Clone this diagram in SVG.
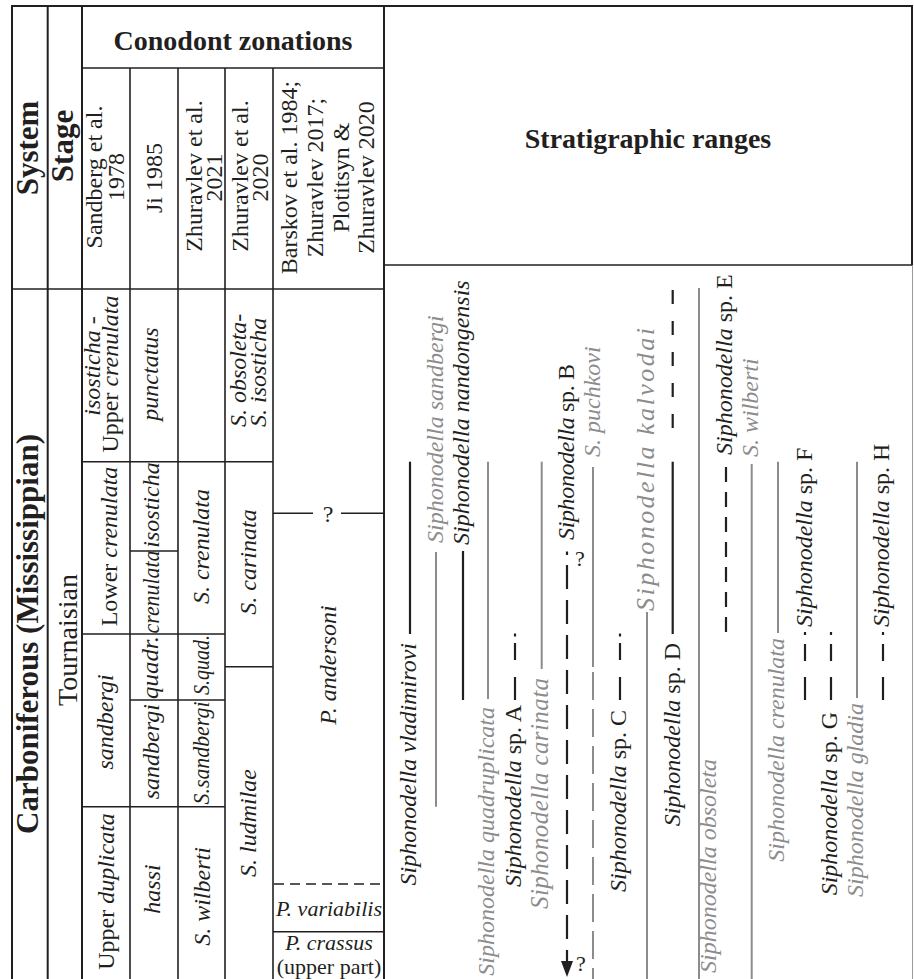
<svg xmlns="http://www.w3.org/2000/svg" width="914" height="979" viewBox="0 0 914 979">
<style>
.ln{stroke:#231f20;stroke-width:1.6;fill:none}
.ob{stroke:#231f20;stroke-width:2;fill:none}
.dl{stroke:#231f20;stroke-width:1.4;fill:none;stroke-dasharray:10 6}
.rb{stroke:#231f20;stroke-width:2.2;fill:none}
.rg{stroke:#8c8c8c;stroke-width:2;fill:none}
text{font-family:"Liberation Serif","Times New Roman",serif;fill:#231f20}
.b28{font-size:28px;font-weight:bold}
.b31{font-size:31px;font-weight:bold}
.r28{font-size:28px}
.r24{font-size:24px}
.i24{font-size:24px;font-style:italic}
.i25{font-size:25px;font-style:italic}
.r22{font-size:22px}
.i22{font-size:22px;font-style:italic}
.it{font-style:italic}
.up{font-style:normal}
.gt{fill:#8c8c8c}
</style>
<rect width="914" height="979" fill="#ffffff"/>

<g id="grid">
  <line class="ob" x1="12" y1="6" x2="913" y2="6"/>
  <line class="ob" x1="12" y1="5" x2="12" y2="979"/>
  <line class="ob" x1="47.7" y1="6" x2="47.7" y2="979"/>
  <line class="ob" x1="82" y1="6" x2="82" y2="979"/>
  <line class="ob" x1="384" y1="6" x2="384" y2="979"/>
  <line class="ob" x1="912" y1="6" x2="912" y2="265"/>
  <line stroke="#9a9a9a" stroke-width="1" x1="912.5" y1="265" x2="912.5" y2="979"/>
  <line class="ln" x1="82" y1="68" x2="384" y2="68"/>
  <line class="ln" x1="12" y1="289" x2="384" y2="289"/>
  <line class="ln" x1="384" y1="265" x2="912" y2="265"/>
  <line class="ln" x1="130" y1="68" x2="130" y2="979"/>
  <line class="ln" x1="178" y1="68" x2="178" y2="979"/>
  <line class="ln" x1="225" y1="68" x2="225" y2="979"/>
  <line class="ln" x1="273" y1="68" x2="273" y2="979"/>
  <line class="ln" x1="82" y1="461.7" x2="273" y2="461.7"/>
  <line class="ln" x1="130" y1="551" x2="178" y2="551"/>
  <line class="ln" x1="82" y1="634" x2="225" y2="634"/>
  <line class="ln" x1="130" y1="700" x2="225" y2="700"/>
  <line class="ln" x1="82" y1="806.7" x2="225" y2="806.7"/>
  <line class="ln" x1="225" y1="666.7" x2="273" y2="666.7"/>
  <line class="ln" x1="273" y1="513.3" x2="313" y2="513.3"/>
  <line class="ln" x1="341" y1="513.3" x2="384" y2="513.3"/>
  <line class="dl" x1="274" y1="884" x2="384" y2="884"/>
  <line class="ln" x1="273" y1="931.7" x2="384" y2="931.7"/>
</g>

<g id="headers">
  <text class="b31" transform="translate(37.5,148) rotate(-90)" text-anchor="middle">System</text>
  <text class="b31" transform="translate(73,146) rotate(-90)" text-anchor="middle">Stage</text>
  <text class="b28" x="233" y="50" text-anchor="middle">Conodont zonations</text>
  <text class="b28" x="648" y="148" text-anchor="middle">Stratigraphic ranges</text>
  <text class="r24" transform="translate(102,177) rotate(-90)" text-anchor="middle">Sandberg et al.</text>
  <text class="r24" transform="translate(124,177) rotate(-90)" text-anchor="middle">1978</text>
  <text class="r24" transform="translate(162,178) rotate(-90)" text-anchor="middle">Ji 1985</text>
  <text class="r24" transform="translate(202,176) rotate(-90)" text-anchor="middle">Zhuravlev et al.</text>
  <text class="r24" transform="translate(222,177.5) rotate(-90)" text-anchor="middle">2021</text>
  <text class="r24" transform="translate(248,176) rotate(-90)" text-anchor="middle">Zhuravlev et al.</text>
  <text class="r24" transform="translate(268,177.5) rotate(-90)" text-anchor="middle">2020</text>
  <text class="r24" transform="translate(297,177.5) rotate(-90)" text-anchor="middle">Barskov et al. 1984;</text>
  <text class="r24" transform="translate(323,177.5) rotate(-90)" text-anchor="middle">Zhuravlev 2017;</text>
  <text class="r24" transform="translate(349,177.5) rotate(-90)" text-anchor="middle">Plotitsyn &amp;</text>
  <text class="r24" transform="translate(374,177.5) rotate(-90)" text-anchor="middle">Zhuravlev 2020</text>
</g>

<g id="units">
  <text class="b31" transform="translate(37.5,634) rotate(-90)" text-anchor="middle">Carboniferous (Mississippian)</text>
  <text class="r28" transform="translate(76.5,640) rotate(-90)" text-anchor="middle">Tournaisian</text>
</g>

<g id="zone-sandberg">
  <text class="i24" transform="translate(100,366) rotate(-90)" text-anchor="middle">isosticha<tspan class="up"> -</tspan></text>
  <text class="r24" transform="translate(118,374) rotate(-90)" text-anchor="middle">Upper <tspan class="it">crenulata</tspan></text>
  <text class="r24" transform="translate(117,546.5) rotate(-90)" text-anchor="middle">Lower <tspan class="it">crenulata</tspan></text>
  <text class="i24" transform="translate(113,722) rotate(-90)" text-anchor="middle">sandbergi</text>
  <text class="r24" transform="translate(114,891.5) rotate(-90)" text-anchor="middle">Upper <tspan class="it">duplicata</tspan></text>
</g>

<g id="zone-ji">
  <text class="i24" transform="translate(158,374) rotate(-90)" text-anchor="middle">punctatus</text>
  <text class="i24" transform="translate(159,505) rotate(-90)" text-anchor="middle">isosticha</text>
  <text class="i24" transform="translate(159,592) rotate(-90)" text-anchor="middle" textLength="83" lengthAdjust="spacingAndGlyphs">crenulata</text>
  <text class="i24" transform="translate(158,667.5) rotate(-90)" text-anchor="middle" textLength="63" lengthAdjust="spacingAndGlyphs">quadr.</text>
  <text class="i24" transform="translate(159,751.7) rotate(-90)" text-anchor="middle">sandbergi</text>
  <text class="i24" transform="translate(160,889) rotate(-90)" text-anchor="middle">hassi</text>
</g>

<g id="zone-zh2021">
  <text class="i24" transform="translate(209,546.5) rotate(-90)" text-anchor="middle">S. crenulata</text>
  <text class="i24" transform="translate(209,665) rotate(-90)" text-anchor="middle" textLength="60" lengthAdjust="spacingAndGlyphs">S.quad.</text>
  <text class="i24" transform="translate(209,753) rotate(-90)" text-anchor="middle" textLength="103" lengthAdjust="spacingAndGlyphs">S.sandbergi</text>
  <text class="i24" transform="translate(210,896.5) rotate(-90)" text-anchor="middle">S. wilberti</text>
</g>

<g id="zone-zh2020">
  <text class="i24" transform="translate(246,427) rotate(-90)">S. obsoleta-</text>
  <text class="i24" transform="translate(266,427) rotate(-90)">S. isosticha</text>
  <text class="i24" transform="translate(256,562) rotate(-90)" text-anchor="middle">S. carinata</text>
  <text class="i24" transform="translate(256,823) rotate(-90)" text-anchor="middle">S. ludmilae</text>
</g>

<g id="zone-barskov">
  <text class="r24" x="328" y="522" text-anchor="middle">?</text>
  <text class="i24" transform="translate(336,665) rotate(-90)" text-anchor="middle">P. andersoni</text>
  <text class="i22" x="329" y="916" text-anchor="middle">P. variabilis</text>
  <text class="i22" x="329" y="950" text-anchor="middle">P. crassus</text>
  <text class="r22" x="329" y="974" text-anchor="middle">(upper part)</text>
</g>

<g id="connectors">
  <g id="vladimirovi">
    <line class="rb" x1="410" y1="461.7" x2="410" y2="634"/>
    <text class="i24" transform="translate(416,643) rotate(-90)" text-anchor="end">Siphonodella vladimirovi</text>
  </g>
  <g id="sandbergi">
    <line class="rg" x1="436" y1="552" x2="436" y2="806.7"/>
    <text class="i24 gt" transform="translate(442.5,543) rotate(-90)">Siphonodella sandbergi</text>
  </g>
  <g id="nandongensis">
    <line class="rb" x1="463" y1="551" x2="463" y2="700"/>
    <text class="i24" transform="translate(469,545) rotate(-90)">Siphonodella nandongensis</text>
  </g>
  <g id="quadruplicata">
    <line class="rg" x1="488" y1="461.7" x2="488" y2="699"/>
    <text class="i24 gt" transform="translate(494,707) rotate(-90)" text-anchor="end">Siphonodella quadruplicata</text>
  </g>
  <g id="spA">
    <line class="rb" x1="515" y1="677" x2="515" y2="700"/>
    <line class="rb" x1="515" y1="643" x2="515" y2="660"/>
    <line class="rb" x1="515" y1="633.5" x2="515" y2="636.5"/>
    <text class="i24" transform="translate(521,705) rotate(-90)" text-anchor="end">Siphonodella<tspan class="up"> sp. A</tspan></text>
  </g>
  <g id="carinata">
    <line class="rg" x1="541.7" y1="461.7" x2="541.7" y2="669"/>
    <text class="i25 gt" transform="translate(547.5,678) rotate(-90)" text-anchor="end" textLength="231">Siphonodella carinata</text>
  </g>
  <g id="spB">
    <line class="rb" x1="567" y1="551.5" x2="567" y2="555"/>
    <line class="rb" x1="567" y1="565" x2="567" y2="963" stroke-dasharray="24 11"/>
    <polygon points="561,961 573,961 567,977" fill="#231f20"/>
    <text class="r22" x="575" y="566">?</text>
    <text class="r22" x="576" y="971">?</text>
    <text class="i24" transform="translate(573.5,540) rotate(-90)" textLength="176">Siphonodella<tspan class="up"> sp. B</tspan></text>
  </g>
  <g id="puchkovi">
    <line class="rg" x1="593" y1="467" x2="593" y2="667"/>
    <line class="rg" x1="593" y1="672" x2="593" y2="979" stroke-dasharray="28 9"/>
    <text class="i24 gt" transform="translate(599.5,457) rotate(-90)">S. puchkovi</text>
  </g>
  <g id="spC">
    <line class="rb" x1="620" y1="677" x2="620" y2="700"/>
    <line class="rb" x1="620" y1="643" x2="620" y2="660"/>
    <line class="rb" x1="620" y1="633.5" x2="620" y2="636.5"/>
    <text class="i24" transform="translate(626,710) rotate(-90)" text-anchor="end">Siphonodella<tspan class="up"> sp. C</tspan></text>
  </g>
  <g id="kalvodai">
    <line class="rg" x1="647" y1="612" x2="647" y2="979"/>
    <text class="gt" font-size="26" font-style="italic" transform="translate(654,611) rotate(-90)" textLength="283">Siphonodella kalvodai</text>
  </g>
  <g id="spD">
    <line class="rb" x1="672.7" y1="290" x2="672.7" y2="440" stroke-dasharray="14 17"/>
    <line class="rb" x1="672.7" y1="461.7" x2="672.7" y2="634"/>
    <text class="i24" transform="translate(680,643) rotate(-90)" text-anchor="end">Siphonodella<tspan class="up"> sp. D</tspan></text>
  </g>
  <g id="obsoleta">
    <line class="rg" x1="699" y1="288" x2="699" y2="979"/>
    <text class="i24 gt" transform="translate(716,973) rotate(-90)">Siphonodella obsoleta</text>
  </g>
  <g id="spE">
    <line class="rb" x1="726" y1="467" x2="726" y2="633" stroke-dasharray="15 10"/>
    <text class="i24" transform="translate(732,455) rotate(-90)">Siphonodella<tspan class="up"> sp. E</tspan></text>
  </g>
  <g id="wilberti">
    <line class="rg" x1="751.7" y1="464" x2="751.7" y2="979"/>
    <text class="i24 gt" transform="translate(758,457) rotate(-90)">S. wilberti</text>
  </g>
  <g id="crenulata">
    <line class="rg" x1="778" y1="461.7" x2="778" y2="633"/>
    <text class="i24 gt" transform="translate(784,638) rotate(-90)" text-anchor="end">Siphonodella crenulata</text>
  </g>
  <g id="spF">
    <line class="rb" x1="805" y1="677" x2="805" y2="700"/>
    <line class="rb" x1="805" y1="644" x2="805" y2="661"/>
    <line class="rb" x1="805" y1="632" x2="805" y2="635"/>
    <text class="i24" transform="translate(812,627) rotate(-90)">Siphonodella<tspan class="up"> sp. F</tspan></text>
  </g>
  <g id="spG">
    <line class="rb" x1="831" y1="677" x2="831" y2="700"/>
    <line class="rb" x1="831" y1="644" x2="831" y2="661"/>
    <line class="rb" x1="831" y1="632" x2="831" y2="635"/>
    <text class="i24" transform="translate(837,712) rotate(-90)" text-anchor="end">Siphonodella<tspan class="up"> sp. G</tspan></text>
  </g>
  <g id="gladia">
    <line class="rg" x1="857" y1="461.7" x2="857" y2="698"/>
    <text class="i24 gt" transform="translate(863,703) rotate(-90)" text-anchor="end">Siphonodella gladia</text>
  </g>
  <g id="spH">
    <line class="rb" x1="883" y1="677" x2="883" y2="700"/>
    <line class="rb" x1="883" y1="644" x2="883" y2="661"/>
    <line class="rb" x1="883" y1="632" x2="883" y2="635"/>
    <text class="i24" transform="translate(889,627) rotate(-90)">Siphonodella<tspan class="up"> sp. H</tspan></text>
  </g>
</g>
</svg>
